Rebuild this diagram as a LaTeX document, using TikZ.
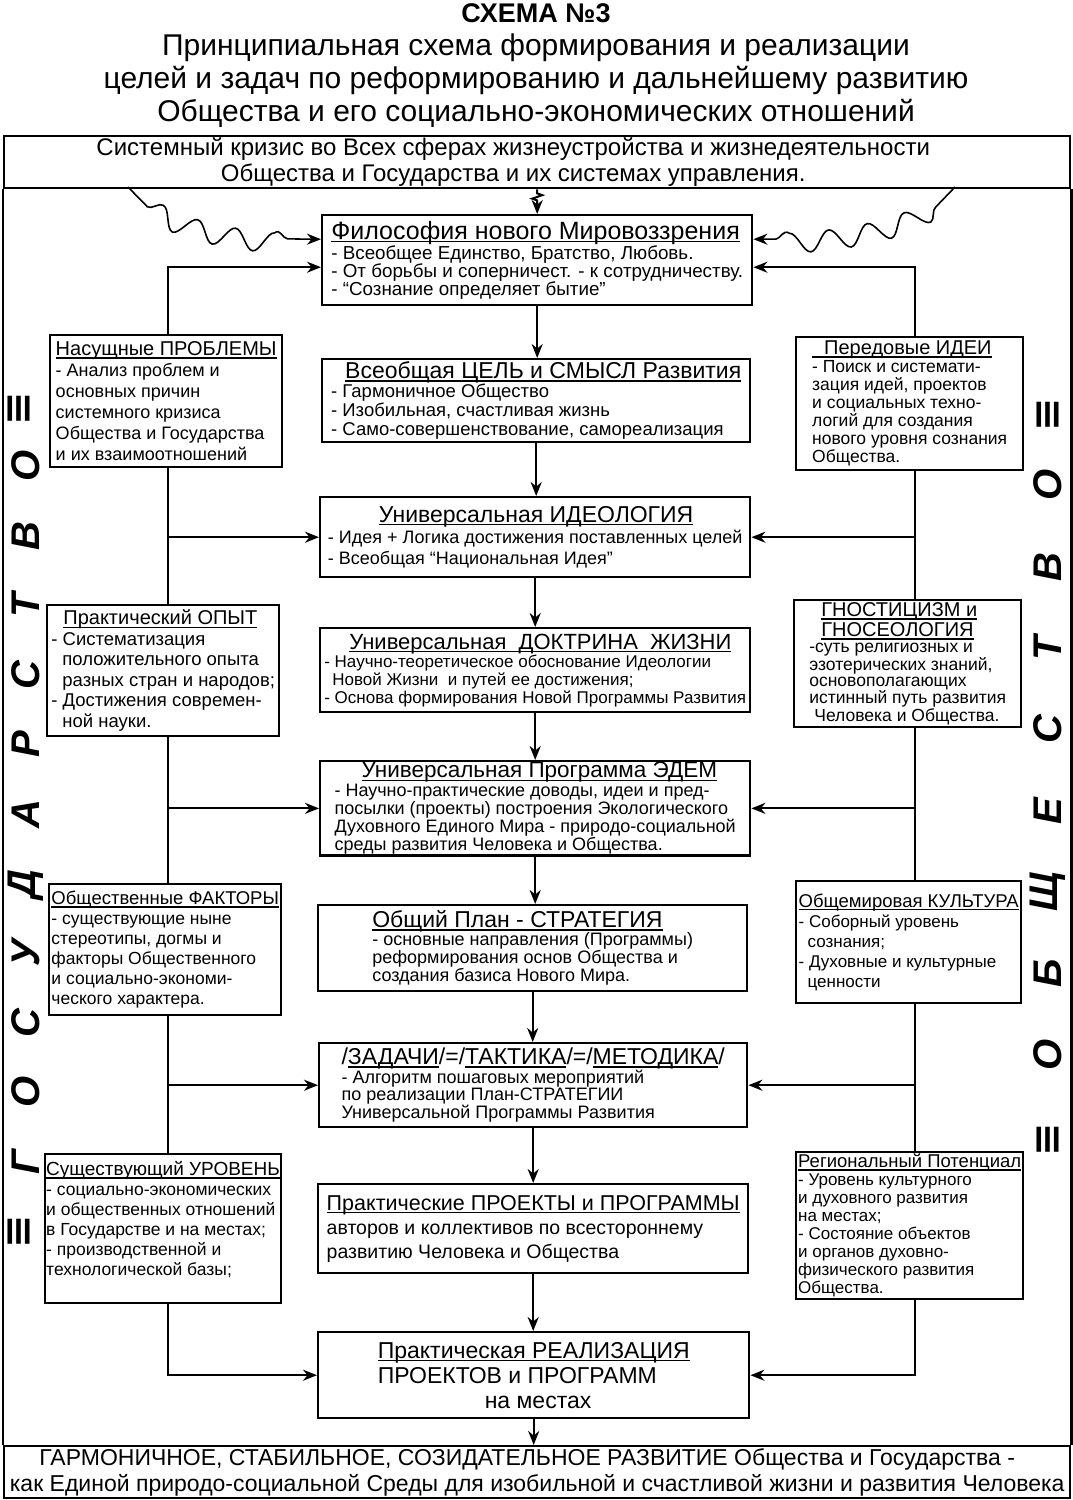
\documentclass[tikz,border=0pt]{standalone}
\usepackage{fontspec}
\setmainfont{Liberation Sans}
\newfontfamily\symfont{DejaVu Sans}
\usetikzlibrary{arrows.meta, decorations.pathmorphing}
\newcommand{\fsz}[2]{\fontsize{#1}{#2}\selectfont}
\newcommand{\uln}[1]{\leavevmode\setbox0=\hbox{#1}\rlap{\rule[-3pt]{\wd0}{1.4pt}}\box0}

\begin{document}
\begin{tikzpicture}[
  x=1pt, y=-1pt,
  >={Stealth[length=14pt, width=11pt]},
  line width=2pt,
  blk/.style={draw, line width=2.4pt, anchor=north west, align=left, inner sep=1pt},
  band/.style={draw, line width=2.4pt, anchor=north west, align=center,
    inner sep=0pt, minimum width=1066pt, minimum height=52pt},
  side/.style={font=\fsz{40}{40}\bfseries\itshape, rotate=90, inner sep=0pt},
  wave/.style={->, line width=1.6pt, decorate, decoration={snake, amplitude=10pt,
    segment length=40pt, pre length=28pt, post length=16pt}},
  ]
  \useasboundingbox (0,0) rectangle (1072,1500);

  % heading
  \node[align=center, anchor=north, inner sep=0pt, font=\fsz{30}{33}] (title) at (536,3)
    {{\bfseries\fsz{27}{33}СХЕМА №3}\\
     Принципиальная схема формирования и реализации\\
     целей и задач по реформированию и дальнейшему развитию\\
     Общества и его социально-экономических отношений};

  % top and bottom bands, frame
  \node[band, font=\fsz{24}{26}] (crisis) at (3,135)
    {\hspace*{-48pt}Системный кризис во Всех сферах жизнеустройства и жизнедеятельности\\
     \hspace*{-48pt}Общества и Государства и их системах управления.};
  \node[band, font=\fsz{23}{26}] (harm) at (3,1445)
    {\hspace*{-20pt}ГАРМОНИЧНОЕ, СТАБИЛЬНОЕ, СОЗИДАТЕЛЬНОЕ РАЗВИТИЕ Общества и Государства -\\
     как Единой природо-социальной Среды для изобильной и счастливой жизни и развития Человека};
  \draw[line width=2.4pt] (crisis.south west) -- (harm.north west)
    (crisis.south east) -- (harm.north east);

  % central column
  \node[blk, minimum width=430pt, minimum height=90pt, font=\fsz{18.8}{18}] (phil) at (321,214)
    {{\fsz{25}{26}\uln{Философия нового Мировоззрения}}\\
     - Всеобщее Единство, Братство, Любовь.\\
     - От борьбы и соперничест. - к сотрудничеству.\\
     - “Сознание определяет бытие”};
  \node[blk, minimum width=428pt, minimum height=83pt, font=\fsz{18.5}{19}] (goal) at (321,358)
    {\hspace*{14pt}{\fsz{23}{24}\uln{Всеобщая ЦЕЛЬ и СМЫСЛ Развития}}\\
     - Гармоничное Общество\\
     - Изобильная, счастливая жизнь\\
     - Само-совершенствование, самореализация};
  \node[blk, minimum width=430pt, minimum height=80pt, font=\fsz{18}{21}] (ideo) at (319,496)
    {\hspace*{51pt}{\fsz{23}{24}\uln{Универсальная ИДЕОЛОГИЯ}}\\
     - Идея + Логика достижения поставленных целей\\
     - Всеобщая “Национальная Идея”};
  \node[blk, minimum width=430pt, minimum height=84pt, font=\fsz{17}{18}] (doct) at (319,627)
    {\hspace*{25pt}{\fsz{22}{24}\uln{Универсальная\ \ ДОКТРИНА\ \ ЖИЗНИ}}\\
     - Научно-теоретическое обоснование Идеологии\\
     \hspace*{8pt}Новой Жизни\ \ и путей ее достижения;\\
     - Основа формирования Новой Программы Развития};
  \node[blk, minimum width=430pt, minimum height=91pt, font=\fsz{18}{16}] (edem) at (319,760)
    {\hspace*{27pt}{\fsz{22.5}{24}\uln{Универсальная Программа ЭДЕМ}}\\[1pt]
     - Научно-практические доводы, идеи и пред-\\
     посылки (проекты) построения Экологического\\
     Духовного Единого Мира - природо-социальной\\
     среды развития Человека и Общества.};
  \node[blk, minimum width=429pt, minimum height=86pt, font=\fsz{18}{18}] (plan) at (317,904)
    {{\fsz{23}{24}\uln{Общий План - СТРАТЕГИЯ}}\\
     - основные направления (Программы)\\
     реформирования основ Общества и\\
     создания базиса Нового Мира.};
  \node[blk, minimum width=428pt, minimum height=84pt, font=\fsz{18}{17}] (tasks) at (318,1042)
    {{\fsz{23}{24}/\uln{ЗАДАЧИ}/=/\uln{ТАКТИКА}/=/\uln{МЕТОДИКА}/}\\
     - Алгоритм пошаговых мероприятий\\
     по реализации План-СТРАТЕГИИ\\
     Универсальной Программы Развития};
  \node[blk, minimum width=430pt, minimum height=89pt, font=\fsz{19.5}{24}] (proj) at (317,1183)
    {{\fsz{21.5}{24}\uln{Практические ПРОЕКТЫ и ПРОГРАММЫ}}\\
     авторов и коллективов по всестороннему\\
     развитию Человека и Общества};
  \node[blk, minimum width=431pt, minimum height=86pt, font=\fsz{23}{25}] (real) at (317,1331)
    {\uln{Практическая РЕАЛИЗАЦИЯ}\\
     ПРОЕКТОВ и ПРОГРАММ\\
     \hspace*{107pt}на местах};

  % left column
  \node[blk, minimum width=232pt, minimum height=132pt, font=\fsz{18}{21}] (prob) at (49,334)
    {{\fsz{20}{21}\uln{Насущные ПРОБЛЕМЫ}}\\
     - Анализ проблем и\\
     основных причин\\
     системного кризиса\\
     Общества и Государства\\
     и их взаимоотношений};
  \node[blk, minimum width=232pt, minimum height=131pt, font=\fsz{18.5}{20.5}] (opyt) at (46,604)
    {\hspace*{12pt}{\fsz{20}{21}\uln{Практический ОПЫТ}}\\
     - Систематизация\\
     \hspace*{11pt}положительного опыта\\
     \hspace*{11pt}разных стран и народов;\\
     - Достижения современ-\\
     \hspace*{11pt}ной науки.};
  \node[blk, minimum width=232pt, minimum height=131pt, font=\fsz{17.5}{20}] (fakt) at (48,883)
    {{\fsz{18.5}{21}\uln{Общественные ФАКТОРЫ}}\\
     - существующие ныне\\
     стереотипы, догмы и\\
     факторы Общественного\\
     и социально-экономи-\\
     ческого характера.};
  \node[blk, minimum width=233pt, minimum height=149pt, font=\fsz{17.5}{20}] (urov) at (44,1153)
    {{\fsz{19}{21}\uln{Существующий УРОВЕНЬ}}\\
     - социально-экономических\\
     и общественных отношений\\
     в Государстве и на местах;\\
     - производственной и\\
     технологической базы;\\
     \mbox{}};

  % right column
  \node[blk, minimum width=227pt, minimum height=133pt, font=\fsz{17.5}{18}] (idei) at (795,336)
    {{\fsz{20}{21}\uln{\hspace*{12pt}Передовые ИДЕИ}}\\
     - Поиск и системати-\\
     зация идей, проектов\\
     и социальных техно-\\
     логий для создания\\
     нового уровня сознания\\
     Общества.};
  \node[blk, minimum width=227pt, minimum height=127pt, font=\fsz{17.5}{16}] (gnos) at (793,599)
    {\hspace*{12pt}{\fsz{20}{19}\uln{ГНОСТИЦИЗМ и}}\\[1pt]
     \hspace*{12pt}{\fsz{20}{19}\uln{ГНОСЕОЛОГИЯ}}\\
     -суть религиозных и\\
     эзотерических знаний,\\
     основополагающих\\
     истинный путь развития\\
     \hspace*{5pt}Человека и Общества.};
  \node[blk, minimum width=225pt, minimum height=122pt, font=\fsz{17}{20}] (kult) at (795,880)
    {{\fsz{18.5}{21}\uln{Общемировая КУЛЬТУРА}}\\
     - Соборный уровень\\
     \hspace*{9pt}сознания;\\
     - Духовные и культурные\\
     \hspace*{9pt}ценности};
  \node[blk, minimum width=227pt, minimum height=147pt, font=\fsz{17}{18}] (regi) at (795,1151)
    {{\fsz{18.5}{20}\uln{Региональный Потенциал}}\\
     - Уровень культурного\\
     и духовного развития\\
     на местах;\\
     - Состояние объектов\\
     и органов духовно-\\
     физического развития\\
     Общества.};

  % side words
  \foreach \l [count=\i] in {Г,О,С,У,Д,А,Р,С,Т,В,О}
    \node[side] (gos\i) at (26,{1162-(\i-1)*69.6}) {\l};
  \node[side, font=\symfont\fsz{40}{40}\bfseries] (gosA) at (20,1232) {≡};
  \node[side, font=\symfont\fsz{40}{40}\bfseries] (gosB) at (20,409) {≡};
  \foreach \l [count=\i] in {О,Б,Щ,Е,С,Т,В,О}
    \node[side] (obs\i) at (1048,{1055-(\i-1)*81.4}) {\l};
  \node[side, font=\symfont\fsz{40}{40}\bfseries] (obsA) at (1049,1140) {≡};
  \node[side, font=\symfont\fsz{40}{40}\bfseries] (obsB) at (1049,415) {≡};

  % connectors
  \coordinate (lx) at (168,0);
  \coordinate (rx) at (915,0);
  \coordinate (wl) at (128,187);
  \coordinate (wr) at (955,187);

  \draw[->, decorate, decoration={zigzag, amplitude=5pt, segment length=7pt,
    pre length=4pt, post length=13pt}] (phil.north |- crisis.south) -- (phil.north);
  \draw[wave] (wl) .. controls (150,228) and (250,240) .. ([yshift=21pt]phil.west);
  \draw[wave] (wr) .. controls (935,228) and (830,240) .. ([yshift=21pt]phil.east);

  \draw[->] (phil.south) -- (phil.south |- goal.north);
  \draw[->] (goal.south) -- (goal.south |- ideo.north);
  \draw[->] (ideo.south) -- (ideo.south |- doct.north);
  \draw[->] (doct.south) -- (doct.south |- edem.north);
  \draw[->] (edem.south) -- (edem.south |- plan.north);
  \draw[->] (plan.south) -- (plan.south |- tasks.north);
  \draw[->] (tasks.south) -- (tasks.south |- proj.north);
  \draw[->] (proj.south) -- (proj.south |- real.north);
  \draw[->] (real.south) -- (real.south |- harm.north);

  \draw[->] (prob.north -| lx) |- ([yshift=-7pt]phil.west);
  \draw (prob.south -| lx) -- (opyt.north -| lx);
  \draw[->] (lx |- ideo.west) -- (ideo.west);
  \draw (opyt.south -| lx) -- (fakt.north -| lx);
  \draw[->] (lx |- edem.west) -- (edem.west);
  \draw (fakt.south -| lx) -- (urov.north -| lx);
  \draw[->] (lx |- tasks.west) -- (tasks.west);
  \draw[->] (urov.south -| lx) |- (real.west);

  \draw[->] (idei.north -| rx) |- ([yshift=-7pt]phil.east);
  \draw (idei.south -| rx) -- (gnos.north -| rx);
  \draw[->] (rx |- ideo.east) -- (ideo.east);
  \draw (gnos.south -| rx) -- (kult.north -| rx);
  \draw[->] (rx |- edem.east) -- (edem.east);
  \draw (kult.south -| rx) -- (regi.north -| rx);
  \draw[->] (rx |- tasks.east) -- (tasks.east);
  \draw[->] (regi.south -| rx) |- (real.east);
\end{tikzpicture}
\end{document}
